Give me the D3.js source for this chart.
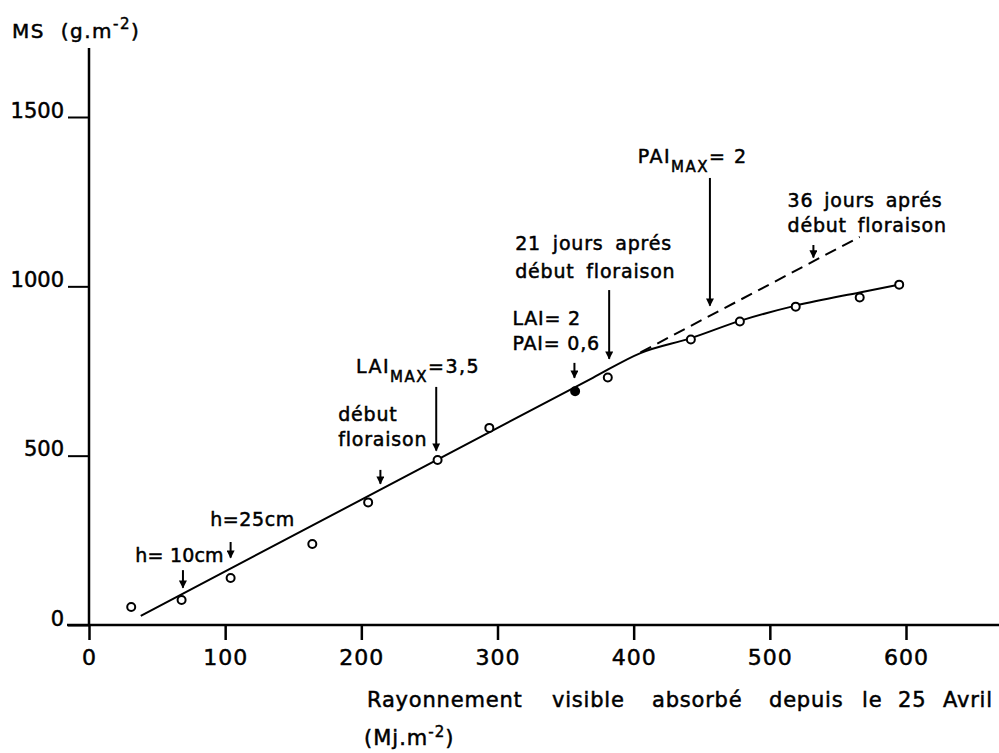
<!DOCTYPE html>
<meta charset="utf-8">
<script src="https://d3js.org/d3.v7.min.js"></script>
<style>
  body { margin: 0; background: #fff; }
  text { font-family: "DejaVu Sans", sans-serif; fill: #000; stroke: #000; stroke-width: 0.5px; }
</style>
<div id="chart"></div>
<script>
// measured points: radiation absorbed (MJ/m2) and dry matter (g/m2)
var rad = [31, 68, 104, 164, 205, 256, 294, 357, 381, 442, 478, 519, 566, 595];
var ms  = [53, 74, 139, 239, 362, 487, 582, 690, 731, 843, 896, 940, 967, 1005];
var filled = [false, false, false, false, false, false, false, true, false, false, false, false, false, false];

// fitted curve (solid) and its linear extension (dashed)
var fitX = [38, 370, 405, 442, 478, 519, 566, 595];
var fitY = [27, 730, 803, 847, 898, 943, 982, 1005];
var dashX = [405, 566];
var dashY = [805, 1146];

var xTicks = [0, 100, 200, 300, 400, 500, 600];
var yTicks = [0, 500, 1000, 1500];

// annotations: x / y in data units
var notes = [
  { x: 34, y: 186, lines: ["h= 10cm"], gap: 25, ls: 0.2, ws: 0, ax: 69, ay1: 162, ay2: 110 },
  { x: 89, y: 292, lines: ["h=25cm"], gap: 25, ls: 0.6, ws: 0, ax: 104, ay1: 245, ay2: 199 },
  { x: 183, y: 602, lines: ["début", "floraison"], gap: 25, ls: 0.8, ws: 0, ax: 214, ay1: 458, ay2: 417 },
  { x: 196, y: 744, sub: ["LAI", "MAX", "=3,5"], ax: 255, ay1: 703, ay2: 515 },
  { x: 313, y: 1107, lines: ["21 jours aprés", "début floraison"], gap: 28, ls: 0.8, ws: 5, ax: 382, ay1: 989, ay2: 786 },
  { x: 311, y: 886, lines: ["LAI= 2", "PAI= 0,6"], gap: 25, ls: 0.8, ws: 0, ax: 356.5, ay1: 774, ay2: 730 },
  { x: 403, y: 1364, sub: ["PAI", "MAX", "= 2"], ax: 456, ay1: 1320, ay2: 943 },
  { x: 513, y: 1234, lines: ["36 jours aprés", "début floraison"], gap: 25, ls: 0.8, ws: 4, ax: 532, ay1: 1122, ay2: 1085 }
];

var width = 999, height = 753;

var svg = d3.select("#chart").append("svg")
  .attr("width", width)
  .attr("height", height);

var x = d3.scaleLinear().domain([0, 600]).range([89, 906]);
var y = d3.scaleLinear().domain([0, 1500]).range([625, 117]);

svg.append("defs").append("marker")
  .attr("id", "head")
  .attr("viewBox", "0 0 10 10")
  .attr("refX", 9).attr("refY", 5)
  .attr("markerWidth", 4.5).attr("markerHeight", 4)
  .attr("markerUnits", "strokeWidth")
  .attr("orient", "auto")
  .append("path")
  .attr("d", "M0,0 L10,5 L0,10 z")
  .attr("fill", "#000");

// axes lines
svg.append("line")
  .attr("x1", 67).attr("x2", width)
  .attr("y1", y(0)).attr("y2", y(0))
  .attr("stroke", "#000").attr("stroke-width", 2.5);
svg.append("line")
  .attr("x1", x(0)).attr("x2", x(0))
  .attr("y1", 48).attr("y2", y(0))
  .attr("stroke", "#000").attr("stroke-width", 2.5);

// X axis
var gx = svg.append("g")
  .attr("transform", "translate(0," + y(0) + ")")
  .call(d3.axisBottom(x).tickValues(xTicks).tickSize(15).tickPadding(9).tickFormat(d3.format("d")));
gx.select(".domain").remove();
gx.selectAll("line").attr("stroke-width", 2.5);
gx.selectAll("text").style("font-size", "22px").style("font-family", "DejaVu Sans")
  .style("letter-spacing", "1px");

// Y axis
var gy = svg.append("g")
  .attr("transform", "translate(" + x(0) + ",0)")
  .call(d3.axisLeft(y).tickValues(yTicks).tickSize(21).tickFormat(d3.format("d")));
gy.select(".domain").remove();
gy.selectAll("line").attr("stroke-width", 2);
gy.selectAll("text")
  .attr("x", -25).attr("dy", "0")
  .style("font-size", "21px").style("font-family", "DejaVu Sans");

// axis titles
svg.append("text")
  .attr("x", 12).attr("y", 38)
  .style("font-size", "20px")
  .style("letter-spacing", "1.5px")
  .html('MS&#160;&#160;(g.m<tspan dy="-9" font-size="15px">-2</tspan><tspan dy="9">)</tspan>');

var xTitle = ["Rayonnement", "visible", "absorbé", "depuis", "le", "25", "Avril"];
var xTitleAt = [367, 552, 652, 769, 862, 898, 943];
svg.append("g").selectAll("text")
  .data(xTitle)
  .join("text")
  .attr("x", function (d, i) { return xTitleAt[i]; })
  .attr("y", 707)
  .style("font-size", "21px")
  .style("letter-spacing", "0.8px")
  .text(function (d) { return d; });

svg.append("text")
  .attr("x", 364).attr("y", 745)
  .style("font-size", "21px")
  .style("letter-spacing", "1px")
  .html('(Mj.m<tspan dy="-8" font-size="15px">-2</tspan><tspan dy="8">)</tspan>');

// dashed extension
svg.append("path")
  .datum(d3.zip(dashX, dashY))
  .attr("fill", "none")
  .attr("stroke", "#000")
  .attr("stroke-width", 2)
  .attr("stroke-dasharray", "12,7")
  .attr("d", d3.line()
    .x(function (d) { return x(d[0]); })
    .y(function (d) { return y(d[1]); }));

// fitted curve
svg.append("path")
  .datum(d3.zip(fitX, fitY))
  .attr("fill", "none")
  .attr("stroke", "#000")
  .attr("stroke-width", 2)
  .attr("d", d3.line()
    .curve(d3.curveMonotoneX)
    .x(function (d) { return x(d[0]); })
    .y(function (d) { return y(d[1]); }));

// points
svg.append("g").selectAll("circle")
  .data(d3.range(rad.length))
  .join("circle")
  .attr("cx", function (i) { return x(rad[i]); })
  .attr("cy", function (i) { return y(ms[i]); })
  .attr("r", 4)
  .attr("fill", function (i) { return filled[i] ? "#000" : "#fff"; })
  .attr("stroke", "#000")
  .attr("stroke-width", 2);

// annotations
notes.forEach(function (n) {
  if (n.lines) {
    n.lines.forEach(function (t, k) {
      svg.append("text")
        .attr("x", x(n.x))
        .attr("y", y(n.y) + k * n.gap)
        .style("font-size", "19px")
        .style("letter-spacing", n.ls + "px")
        .style("word-spacing", n.ws + "px")
        .text(t);
    });
  } else {
    var t = svg.append("text")
      .attr("x", x(n.x))
      .attr("y", y(n.y))
      .style("font-size", "19px")
      .style("letter-spacing", "1.5px");
    t.append("tspan").text(n.sub[0]);
    t.append("tspan").attr("dy", 9).style("font-size", "15px").text(n.sub[1]);
    t.append("tspan").attr("dy", -9).text(n.sub[2]);
  }
  svg.append("line")
    .attr("x1", x(n.ax)).attr("x2", x(n.ax))
    .attr("y1", y(n.ay1)).attr("y2", y(n.ay2))
    .attr("stroke", "#000")
    .attr("stroke-width", 2)
    .attr("marker-end", "url(#head)");
});
</script>
